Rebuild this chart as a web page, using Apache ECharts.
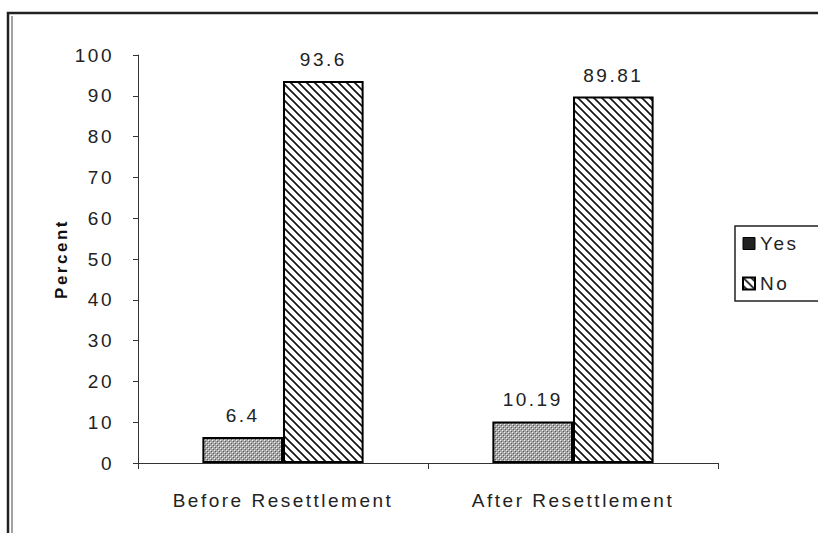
<!DOCTYPE html>
<html><head><meta charset="utf-8">
<script src="https://cdn.jsdelivr.net/npm/echarts@6/dist/echarts.min.js"></script>
<style>html,body{margin:0;padding:0;background:#fff}#c{width:818px;height:533px}
#c svg text{letter-spacing:2.5px}</style>
</head><body><div id="c"></div>
<script>
const categories = ['Before Resettlement', 'After Resettlement'];
const yesValues = [6.4, 10.19];
const noValues = [93.6, 89.81];
const yTicks = [0, 10, 20, 30, 40, 50, 60, 70, 80, 90, 100];

function hatchPattern() {
  const s = 8, c = document.createElement('canvas');
  c.width = s; c.height = s;
  const g = c.getContext('2d');
  g.fillStyle = '#fff'; g.fillRect(0, 0, s, s);
  g.strokeStyle = '#111'; g.lineWidth = 1.6;
  g.beginPath();
  g.moveTo(-1, -1); g.lineTo(s + 1, s + 1);
  g.moveTo(-1, s - 1); g.lineTo(1, s + 1);
  g.moveTo(s - 1, -1); g.lineTo(s + 1, 1);
  g.stroke();
  return c;
}
function dotPattern() {
  const s = 4, c = document.createElement('canvas');
  c.width = s; c.height = s;
  const g = c.getContext('2d');
  g.fillStyle = '#a6a6a6'; g.fillRect(0, 0, s, s);
  g.fillStyle = '#f0f0f0';
  g.fillRect(0, 0, 1, 1); g.fillRect(2, 2, 1, 1);
  g.fillStyle = '#5a5a5a';
  g.fillRect(1, 1, 1, 1); g.fillRect(3, 3, 1, 1);
  return c;
}
const FONT = 'Liberation Sans';
const chart = echarts.init(document.getElementById('c'), null, { renderer: 'svg' });
chart.setOption({
  animation: false,
  backgroundColor: '#fff',
  textStyle: { fontFamily: FONT },
  grid: { left: 138, right: 100, top: 55, bottom: 70 },
  graphic: [
    { type: 'rect', shape: { x: 8, y: 13, width: 820, height: 530 }, style: { fill: null, stroke: '#222', lineWidth: 2.5 }, silent: true },
    { type: 'line', shape: { x1: 12, y1: 16, x2: 12, y2: 533 }, style: { stroke: '#444', lineWidth: 1 }, silent: true }
  ],
  legend: {
    orient: 'vertical', left: 735, top: 226,
    padding: [8, 30, 8, 7], itemGap: 21,
    itemWidth: 12, itemHeight: 12,
    borderColor: '#222', borderWidth: 1.5,
    textStyle: { fontSize: 19, color: '#222', fontFamily: FONT },
    data: [
      { name: 'Yes', icon: 'rect', itemStyle: { color: '#222', borderColor: '#000', borderWidth: 1 } },
      { name: 'No', icon: 'rect', itemStyle: { color: { image: hatchPattern(), repeat: 'repeat' }, borderColor: '#000', borderWidth: 2 } }
    ]
  },
  xAxis: {
    type: 'category', data: categories,
    axisLine: { lineStyle: { color: '#333', width: 1 } },
    axisTick: { show: true, length: 6, lineStyle: { color: '#333' } },
    axisLabel: { fontSize: 19, color: '#222', margin: 28, fontFamily: FONT }
  },
  yAxis: {
    type: 'value', min: 0, max: 100, interval: 10,
    name: 'Percent', nameLocation: 'middle', nameGap: 68, nameRotate: 90,
    nameTextStyle: { fontSize: 17, fontWeight: 'bold', color: '#111', fontFamily: FONT },
    axisLine: { show: true, lineStyle: { color: '#333', width: 1 } },
    axisTick: { show: true, length: 5, lineStyle: { color: '#333' } },
    axisLabel: { fontSize: 19, color: '#222', margin: 24, fontFamily: FONT,
      formatter: v => yTicks.includes(v) ? String(v) : '' },
    splitLine: { show: false }
  },
  series: [
    { name: 'Yes', type: 'bar', data: yesValues, barWidth: '27.8%', barGap: '0%',
      itemStyle: { color: { image: dotPattern(), repeat: 'repeat' }, borderColor: '#000', borderWidth: 2 },
      label: { show: true, position: 'top', distance: 12, fontSize: 19, color: '#222', fontFamily: FONT } },
    { name: 'No', type: 'bar', data: noValues, barWidth: '27.8%',
      itemStyle: { color: { image: hatchPattern(), repeat: 'repeat' }, borderColor: '#000', borderWidth: 2 },
      label: { show: true, position: 'top', distance: 12, fontSize: 19, color: '#222', fontFamily: FONT } }
  ]
});
</script></body></html>
